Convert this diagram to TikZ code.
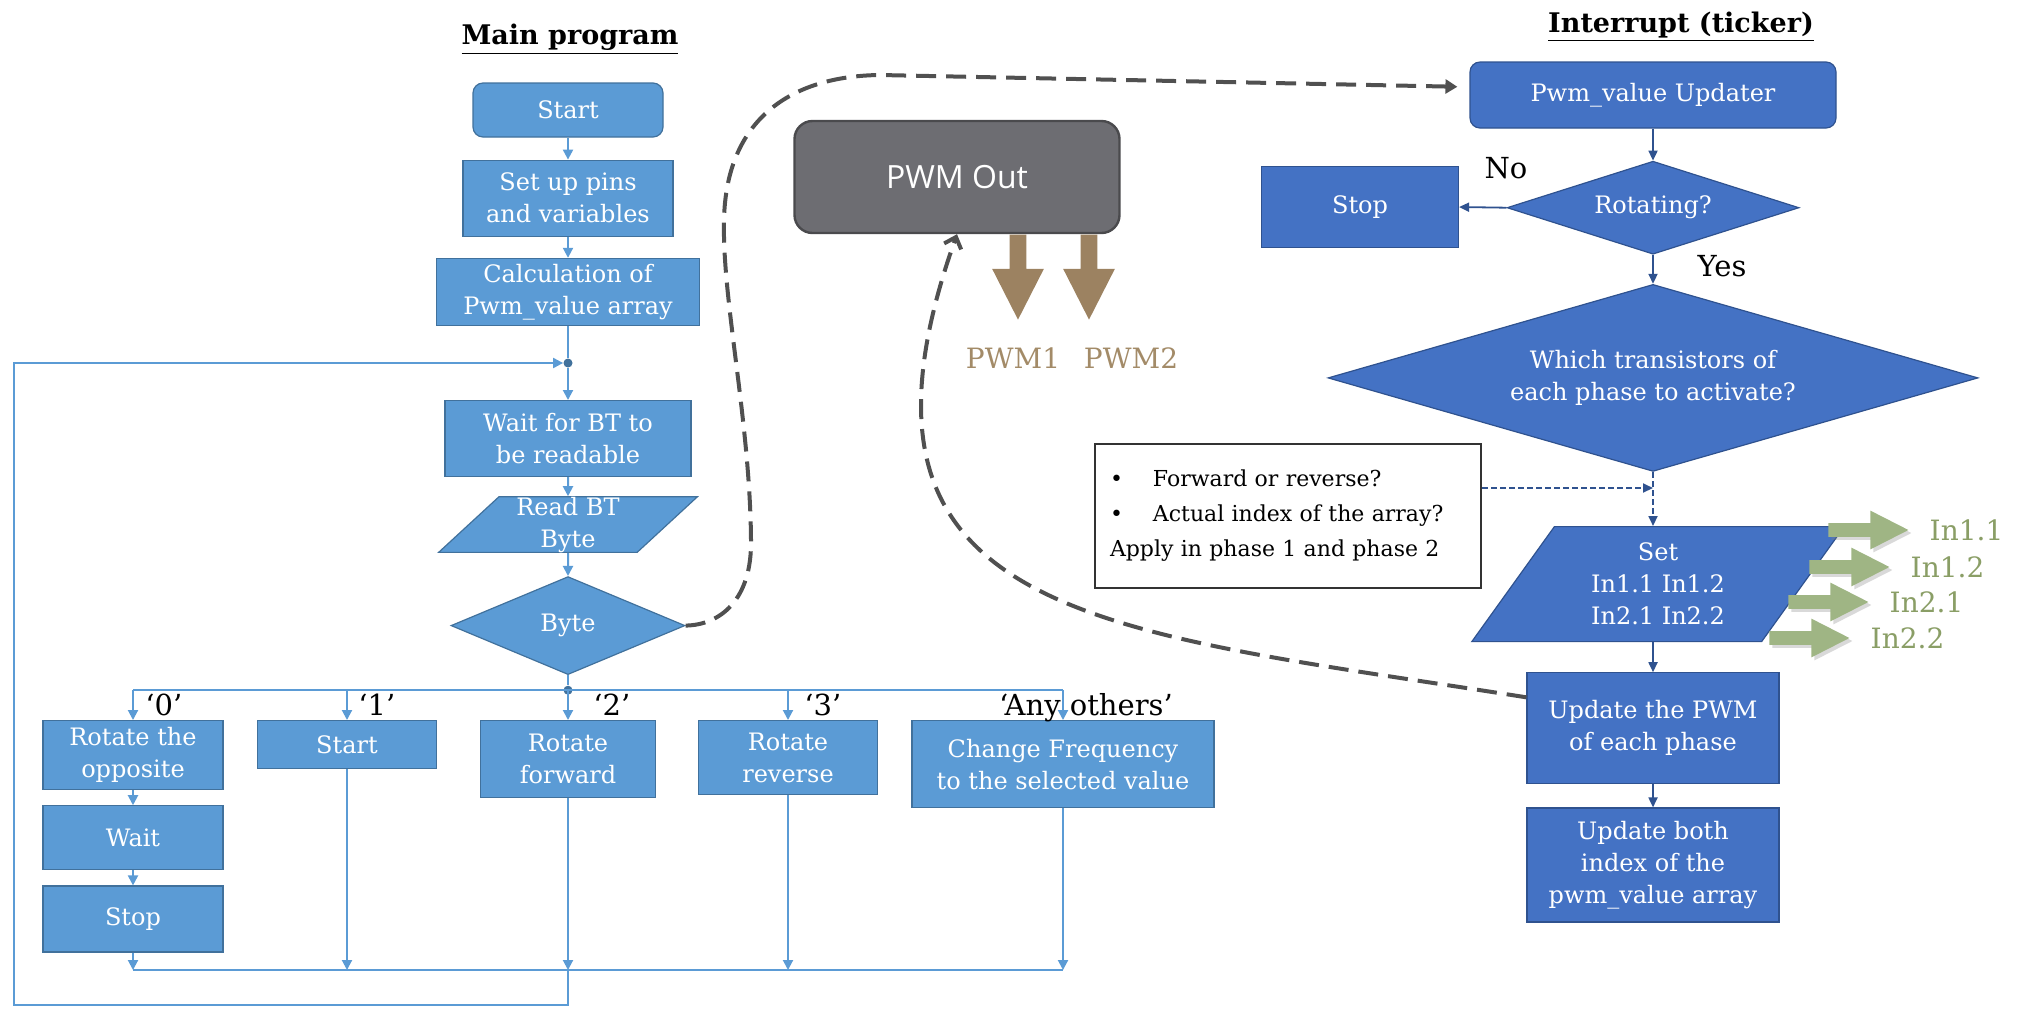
\documentclass[tikz,border=0pt]{standalone}
\usepackage{fontspec}
\setmainfont{DejaVu Serif}
\newfontfamily\outfont{Open Sans}
\usetikzlibrary{shapes,arrows.meta,positioning,calc,shadows}

\definecolor{mainblue}{HTML}{5B9BD5}
\definecolor{mainedge}{HTML}{41719C}
\definecolor{intblue}{HTML}{4472C4}
\definecolor{intedge}{HTML}{2F528F}
\definecolor{outgray}{HTML}{6D6D72}
\definecolor{outedge}{HTML}{4A4A4D}
\definecolor{dashgray}{HTML}{505050}
\definecolor{pwmbrown}{HTML}{9C8261}
\definecolor{pwmtext}{HTML}{A38B68}
\definecolor{ingreen}{HTML}{9FB584}
\definecolor{intext}{HTML}{8A9E66}

\begin{document}
\begin{tikzpicture}[x=0.5pt, y=-0.5pt,
      mbox/.style={draw=mainedge, fill=mainblue, text=white, align=center, line width=0.6pt,
        inner sep=2pt, font=\fontsize{12}{16}\selectfont},
      ibox/.style={draw=intedge, fill=intblue, text=white, align=center, line width=0.6pt,
        inner sep=2pt, font=\fontsize{12}{16}\selectfont},
      mdiam/.style={mbox, diamond, inner sep=0pt},
      idiam/.style={ibox, diamond, inner sep=0pt},
      mpara/.style={mbox, trapezium, trapezium stretches=true, trapezium left angle=51,
        trapezium right angle=129, inner sep=0pt},
      ipara/.style={ibox, trapezium, trapezium stretches=true, trapezium left angle=57,
        trapezium right angle=123, inner sep=0pt},
      outbox/.style={draw=outedge, fill=outgray, rounded corners=9pt, line width=1.2pt,
        text=white, font=\outfont\fontsize{16}{18}\selectfont},
      notebox/.style={draw=black!80, fill=white, line width=1pt, align=left, inner xsep=7.5pt,
        text width=178pt, minimum height=72pt, font=\fontsize{11}{17.5}\selectfont},
      dot/.style={circle, fill=mainedge, inner sep=0pt, minimum size=4.5pt},
      mline/.style={mainblue, line width=1pt},
      marrow/.style={mline, -{Triangle[length=5pt,width=5pt]}},
      iline/.style={intedge, line width=0.9pt},
      iarrow/.style={iline, -{Triangle[length=5pt,width=4.5pt]}},
      inote/.style={iarrow, dash pattern=on 3pt off 1.5pt},
      link/.style={dashgray, line width=2pt, dash pattern=on 10pt off 5pt},
      lbl/.style={font=\fontsize{14.5}{17}\selectfont, inner sep=0pt},
      title/.style={font=\fontsize{13.5}{16}\selectfont\bfseries, inner sep=0pt},
      pwmarrow/.style={single arrow, fill=pwmbrown, rotate=-90, inner xsep=0pt, inner ysep=4pt,
        minimum height=42.5pt, single arrow head extend=8.75pt, single arrow tip angle=54},
      inarrow/.style={single arrow, fill=ingreen, inner xsep=0pt, inner ysep=3.25pt,
        minimum height=40pt, single arrow head extend=6.25pt, single arrow tip angle=54,
        drop shadow={opacity=0.3, shadow xshift=1.5pt, shadow yshift=-1.5pt}},
      pwmlbl/.style={text=pwmtext, font=\fontsize{14}{16}\selectfont, inner sep=0pt},
      intxt/.style={text=intext, font=\fontsize{14}{16}\selectfont, inner sep=0pt}
    ]
      \useasboundingbox (0,0) rectangle (2022,1008);

      % Titles
      \node[title] (maintitle) at (570,39) {\underline{Main program}};
      \node[title] (inttitle) at (1681,27) {\underline{Interrupt (ticker)}};

      % Main program
      \node[mbox, rounded corners=5pt, minimum width=95pt, minimum height=27pt] (mstart) at (568,110) {Start};
      \node[mbox, minimum width=105pt, minimum height=38pt, below=11pt of mstart] (setup) {Set up pins\\and variables};
      \node[mbox, minimum width=131.5pt, minimum height=33.5pt, below=10.5pt of setup] (calc) {Calculation of\\Pwm\_value array};
      \node[mbox, minimum width=123pt, minimum height=38pt, below=37pt of calc] (waitbt) {Wait for BT to\\be readable};
      \node[mpara, minimum width=130pt, minimum height=27.5pt, below=9.5pt of waitbt] (readbt) {Read BT\\Byte};
      \node[mdiam, aspect=2.4, minimum width=117pt, minimum height=49pt, below=11.5pt of readbt] (byte) {Byte};
      \node[dot] (jtop) at ($(calc.south)!0.5!(waitbt.north)$) {};
      \node[dot] (jbr) at ([yshift=-7.5pt]byte.south) {};

      % Cases of the byte
      \node[mbox, anchor=north, minimum width=90pt, minimum height=34.5pt] (rotopp) at (133,720) {Rotate the\\opposite};
      \node[mbox, minimum width=90pt, minimum height=32pt, below=7.5pt of rotopp] (wait0) {Wait};
      \node[mbox, minimum width=90pt, minimum height=33pt, below=7.5pt of wait0] (stop0) {Stop};
      \node[mbox, anchor=north, minimum width=89.5pt, minimum height=24pt] (start1) at (347,720) {Start};
      \node[mbox, anchor=north, minimum width=87.5pt, minimum height=38.5pt] (fwd) at (568,720) {Rotate\\forward};
      \node[mbox, anchor=north, minimum width=89.5pt, minimum height=37pt] (rev) at (788,720) {Rotate\\reverse};
      \node[mbox, anchor=north, minimum width=151pt, minimum height=43.5pt] (chfreq) at (1063,720) {Change Frequency\\to the selected value};

      \node[lbl, anchor=base west] (l0) at ([xshift=6pt,yshift=2.5pt]rotopp.north) {‘0’};
      \node[lbl, anchor=base west] (l1) at ([xshift=5.5pt,yshift=2.5pt]start1.north) {‘1’};
      \node[lbl, anchor=base west] (l2) at ([xshift=12.5pt,yshift=2.5pt]fwd.north) {‘2’};
      \node[lbl, anchor=base west] (l3) at ([xshift=8pt,yshift=2.5pt]rev.north) {‘3’};
      \node[lbl, anchor=base] (lany) at ([xshift=11.5pt,yshift=2.5pt]chfreq.north) {‘Any others’};

      % Main program arrows
      \draw[marrow] (mstart) -- (setup);
      \draw[marrow] (setup) -- (calc);
      \draw[mline] (calc) -- (jtop);
      \draw[marrow] (jtop) -- (waitbt);
      \draw[marrow] (waitbt) -- (readbt);
      \draw[marrow] (readbt) -- (byte);
      \draw[mline] (byte) -- (jbr);
      \draw[marrow] (rotopp) -- (wait0);
      \draw[marrow] (wait0) -- (stop0);
      \draw[mline] (rotopp.north |- jbr) -- (chfreq.north |- jbr);
      \foreach \b in {rotopp,start1,fwd,rev,chfreq}
        \draw[marrow] (\b.north |- jbr) -- (\b.north);
      \coordinate (mrg) at (568,970);
      \foreach \b in {stop0,start1,fwd,rev,chfreq}
        \draw[marrow] (\b.south) -- (\b.south |- mrg);
      \draw[mline] (stop0.south |- mrg) -- (chfreq.south |- mrg);
      \draw[marrow] (mrg) -- ++(0,35) -| ([xshift=-277pt]jtop.center) -- (jtop);

      % PWM output
      \node[outbox, minimum width=162.5pt, minimum height=56pt] (pwmout) at (957,177) {PWM Out};
      \node[pwmarrow, anchor=west] (pa1) at ([xshift=30.5pt]pwmout.south) {};
      \node[pwmarrow, anchor=west] (pa2) at ([xshift=66pt]pwmout.south) {};
      \node[pwmlbl] (pwm1) at (1013,358) {PWM1};
      \node[pwmlbl] (pwm2) at (1131,358) {PWM2};

      % Interrupt
      \node[ibox, rounded corners=5pt, minimum width=183pt, minimum height=33pt] (upd) at (1653,95) {Pwm\_value Updater};
      \node[idiam, aspect=3.1, minimum width=146pt, minimum height=46.5pt, below=16pt of upd] (rot) {Rotating?};
      \node[idiam, aspect=3.5, minimum width=325pt, minimum height=93.5pt, below=14.5pt of rot] (which) {Which transistors of\\each phase to activate?};
      \node[ipara, minimum width=186.5pt, minimum height=57.5pt, below=27pt of which, xshift=2.5pt] (setin) {Set\\In1.1 In1.2\\In2.1 In2.2};
      \node[ibox, minimum width=126pt, minimum height=55.5pt, below=15pt of setin, xshift=-2.5pt] (updpwm) {Update the PWM\\of each phase};
      \node[ibox, minimum width=126pt, minimum height=57pt, below=11.5pt of updpwm] (updboth) {Update both\\index of the\\pwm\_value array};
      \node[ibox, minimum width=98.5pt, minimum height=40.5pt] (istop) at (1360,207) {Stop};
      \node[notebox] (note) at (1288,516) {•\hspace{15pt}Forward or reverse?\\•\hspace{15pt}Actual index of the array?\\Apply in phase 1 and phase 2};
      \node[lbl] (nolbl) at (1506,168) {No};
      \node[lbl] (yeslbl) at (1722,266) {Yes};

      % Interrupt arrows
      \draw[iarrow] (upd) -- (rot);
      \draw[iarrow] (rot) -- (which);
      \draw[iarrow] (rot.west) -- (istop.east);
      \coordinate (tap) at (1653,488);
      \draw[inote] (which.south) -- (which.south |- setin.north);
      \draw[inote] (note.east |- tap) -- (tap);
      \draw[iarrow] (updpwm.north |- setin.south) -- (updpwm.north);
      \draw[iarrow] (updpwm) -- (updboth);

      % Outputs of the set block
      \foreach \n/\x/\y/\t in {1/1828/530/In1.1, 2/1809/567/In1.2, 3/1788/602/In2.1, 4/1769/638/In2.2} {
        \node[inarrow, anchor=west] (in\n) at (\x,\y) {};
        \node[intxt, right=10pt of in\n.tip] (int\n) {\t};
      }

      % Links between the parts
      \draw[link, -{Triangle[length=6pt,width=7pt]}, shorten >=6pt] (byte.east)
        .. controls (720,625) and (752,600) .. (751,540)
        .. controls (750,420) and (722,300) .. (724,220)
        .. controls (726,120) and (790,76) .. (880,75) -- ([yshift=4pt]upd.west);
      \draw[link, -{Straight Barb[length=5pt,width=9pt]}] ([yshift=15.5pt]updpwm.west)
        .. controls (1100,630) and (820,620) .. (pwmout.south);
    \end{tikzpicture}
\end{document}
